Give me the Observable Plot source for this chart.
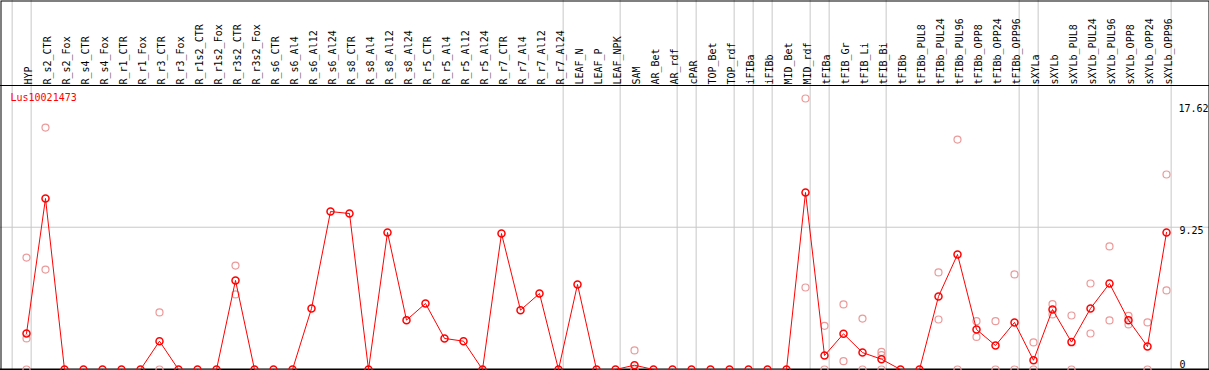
<!DOCTYPE html>
<html>
<head>
<meta charset="utf-8">
<script src="https://cdn.jsdelivr.net/npm/d3@7"></script>
<script src="https://cdn.jsdelivr.net/npm/@observablehq/plot@0.6"></script>
<style>
  html, body { margin: 0; padding: 0; background: #fff; }
  svg { display: block; }
</style>
</head>
<body>
<div id="chart"></div>
<script>
const title = "Lus10021473";
const labels = ["HYP","R_s2_CTR","R_s2_Fox","R_s4_CTR","R_s4_Fox","R_r1_CTR","R_r1_Fox","R_r3_CTR","R_r3_Fox","R_r1s2_CTR","R_r1s2_Fox","R_r3s2_CTR","R_r3s2_Fox","R_s6_CTR","R_s6_Al4","R_s6_Al12","R_s6_Al24","R_s8_CTR","R_s8_Al4","R_s8_Al12","R_s8_Al24","R_r5_CTR","R_r5_Al4","R_r5_Al12","R_r5_Al24","R_r7_CTR","R_r7_Al4","R_r7_Al12","R_r7_Al24","LEAF_N","LEAF_P","LEAF_NPK","SAM","AR_Bet","AR_rdf","cPAR","TOP_Bet","TOP_rdf","iFIBa","iFIBb","MID_Bet","MID_rdf","tFIBa","tFIB_Gr","tFIB_Li","tFIB_Bi","tFIBb","tFIBb_PUL8","tFIBb_PUL24","tFIBb_PUL96","tFIBb_OPP8","tFIBb_OPP24","tFIBb_OPP96","sXYLa","sXYLb","sXYLb_PUL8","sXYLb_PUL24","sXYLb_PUL96","sXYLb_OPP8","sXYLb_OPP24","sXYLb_OPP96"];
const means = [2.34,11.12,0,0,0,0,0,1.84,0,0,0,5.79,0,0,0,3.97,10.27,10.14,0,8.91,3.21,4.29,2.02,1.84,0,8.84,3.86,4.94,0,5.53,0,0,0.28,0,0,0,0,0,0,0,0,11.51,0.91,2.32,1.10,0.67,0,0,4.75,7.48,2.60,1.56,3.06,0.60,3.90,1.78,3.97,5.59,3.21,1.49,8.91];
// replicate values (null = none visible)
const rep1 = [7.28,15.73,null,null,null,null,null,3.71,null,null,null,6.76,null,null,null,null,null,null,null,null,null,null,null,null,null,null,null,null,null,null,null,null,1.24,null,null,null,null,null,null,null,null,17.62,2.84,4.23,3.31,1.14,null,null,6.31,14.95,3.14,3.14,6.18,1.76,4.25,3.51,5.59,8.00,3.49,3.06,12.68];
const rep2 = [2.02,6.50,null,null,null,null,null,0,null,null,null,4.88,null,null,null,null,null,null,null,null,null,null,null,null,null,null,null,null,null,null,null,null,0,null,null,null,null,null,null,null,null,5.33,0,0.54,0,0.93,null,null,3.25,0,2.12,0,0,0,3.58,0,2.34,3.19,2.93,0,5.14];
const rep3 = [0,null,null,null,null,null,null,null,null,null,null,null,null,null,null,null,null,null,null,null,null,null,null,null,null,null,null,null,null,null,null,null,null,null,null,null,null,null,null,null,null,null,null,null,null,0,null,null,null,null,null,null,null,null,null,null,null,null,null,null,null];
const groupEnds = [-1,0,28,31,34,35,37,38,39,41,42,45,52,53,60];
const yTicks = [0, 9.25, 17.62];

const meanPts = means.map((v, i) => ({i, v}));
const repPts = [rep1, rep2, rep3].flatMap(arr => arr.map((v, i) => ({i, v}))).filter(d => d.v != null);

const grid = "#c8c8c8";
const chart = Plot.plot({
  width: 1209,
  height: 370,
  marginLeft: 0, marginRight: 0, marginTop: 98, marginBottom: 1,
  x: {type: "linear", domain: [-26/19, 1183/19], axis: null},
  y: {type: "linear", domain: [0, 17.62], axis: null},
  style: {fontFamily: "'DejaVu Sans Mono', monospace", fontSize: "10px", background: "#fff", overflow: "hidden"},
  marks: [
    Plot.ruleY([yTicks[1]], {stroke: grid, strokeWidth: 1}),
    Plot.ruleX(groupEnds, {x: d => d + 0.245, stroke: grid, strokeWidth: 1, insetTop: -98}),
    Plot.frame({stroke: "black", strokeWidth: 1, insetTop: -97.5, insetLeft: 0.5, insetRight: 0.5}),
    Plot.ruleY([0], {stroke: "black", strokeWidth: 1, dy: -284}),
    Plot.ruleY([0], {stroke: "black", strokeWidth: 2}),
    Plot.text(labels, {x: (d, i) => i, text: d => d, frameAnchor: "top", rotate: -90, textAnchor: "start", lineAnchor: "middle", dx: 2.5, dy: -14, fill: "black"}),
    Plot.text([title], {text: d => d, frameAnchor: "top-left", textAnchor: "start", lineAnchor: "top", dx: 10, dy: -5, fill: "red"}),
    Plot.text([yTicks[2]], {y: d => d, text: d => String(d), frameAnchor: "right", dx: -31, textAnchor: "start", lineAnchor: "top", dy: 6, fill: "black"}),
    Plot.text([yTicks[1]], {y: d => d, text: d => String(d), frameAnchor: "right", dx: -30, textAnchor: "start", lineAnchor: "top", dy: 0, fill: "black"}),
    Plot.text([yTicks[0]], {y: d => d, text: d => String(d), frameAnchor: "right", dx: -30, textAnchor: "start", lineAnchor: "bottom", dy: -2, fill: "black"}),
    Plot.dot(repPts, {x: "i", y: "v", r: 3.5, stroke: "#eb9a9a", strokeWidth: 1.2, fill: "none"}),
    Plot.line(meanPts, {x: "i", y: "v", stroke: "red", strokeWidth: 1}),
    Plot.dot(meanPts, {x: "i", y: "v", r: 3.5, stroke: "red", strokeWidth: 1.5, fill: "none"})
  ]
});
document.getElementById("chart").appendChild(chart);
</script>
</body>
</html>
